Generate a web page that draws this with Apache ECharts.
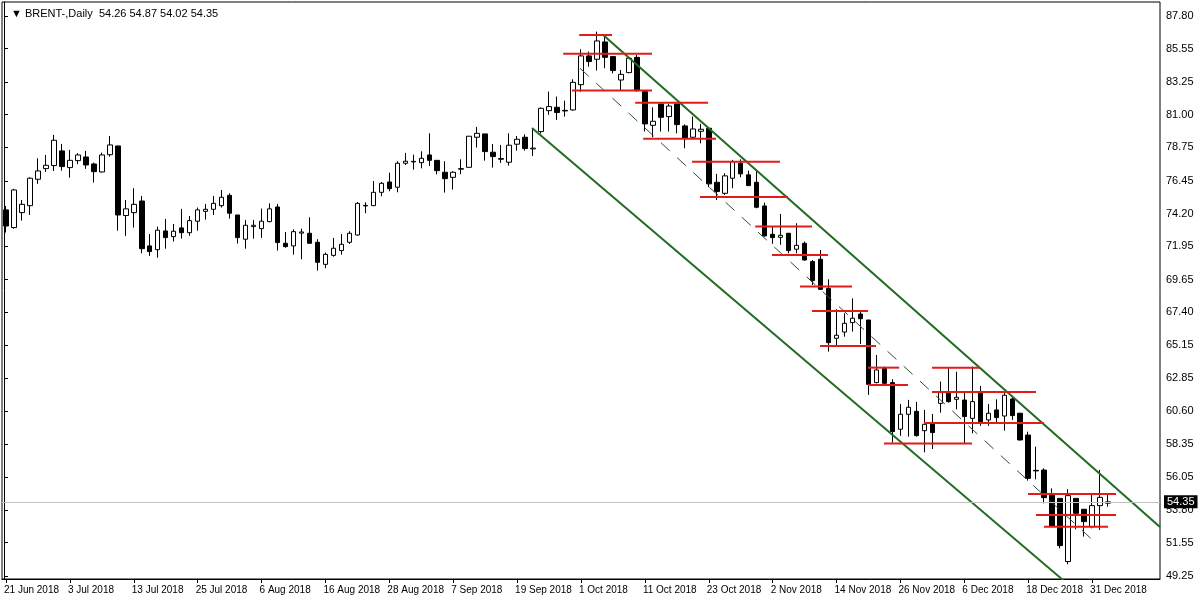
<!DOCTYPE html>
<html><head><meta charset="utf-8">
<script src="https://cdn.jsdelivr.net/npm/echarts@6/dist/echarts.min.js"></script>
<style>html,body{margin:0;padding:0;background:#fff}#c{width:1200px;height:600px}</style>
</head><body><div id="c"></div>
<script>
// candles: [open, close, low, high]
const candles = [
[74.45,73.34,72.89,74.72],[73.23,75.82,73.15,75.90],[74.26,74.83,73.71,75.13],[74.74,76.63,74.10,76.69],
[76.56,77.13,76.24,78.00],[77.29,77.52,77.06,78.23],[77.50,79.24,77.13,79.61],[78.51,77.43,77.15,78.99],
[77.36,77.86,76.67,78.58],[77.84,78.23,77.59,78.35],[78.09,77.54,77.27,78.51],[77.61,77.08,76.33,77.70],
[77.06,78.23,77.02,78.39],[78.25,78.92,78.12,79.54],[78.85,74.10,73.02,78.85],[74.06,74.52,72.66,75.13],
[74.26,74.83,73.23,75.94],[75.06,71.78,71.46,75.41],[71.97,71.58,71.28,72.79],[71.71,73.05,71.16,73.30],
[73.00,72.54,71.78,73.83],[72.61,72.98,72.27,73.48],[73.21,72.88,72.47,74.52],[72.88,73.71,72.66,74.03],
[73.67,74.45,73.02,74.61],[74.35,74.49,73.78,74.86],[74.49,74.90,74.10,75.41],[74.74,75.32,74.61,75.82],
[75.45,74.22,73.85,75.59],[74.10,72.54,72.13,74.10],[72.43,73.39,71.78,73.76],[73.30,73.39,72.47,73.76],
[73.16,73.67,72.52,74.54],[73.64,74.52,73.60,74.90],[74.65,72.20,71.65,74.86],[72.15,71.92,71.85,72.93],
[71.97,72.95,71.37,73.11],[72.85,72.93,71.05,73.16],[72.84,72.15,72.15,73.94],[72.22,70.84,70.27,72.43],
[70.70,71.39,70.43,71.51],[71.32,71.81,71.23,72.52],[71.65,72.08,71.37,72.79],[72.22,72.84,72.11,72.98],
[72.72,74.90,72.68,74.99],[74.72,74.76,74.22,74.97],[74.74,75.66,74.72,76.44],[75.66,76.28,75.39,76.37],
[76.37,75.91,75.73,77.01],[76.01,77.66,75.66,77.80],[77.66,77.80,77.54,78.37],[77.75,77.79,77.22,78.25],
[77.70,78.00,77.31,78.48],[78.23,77.86,77.47,79.72],[77.86,77.15,76.90,77.86],[77.04,76.60,75.64,77.80],
[76.69,77.04,75.85,77.11],[77.25,77.29,76.90,77.93],[77.38,79.52,77.38,79.52],[79.45,79.72,78.74,80.16],
[79.68,78.46,77.84,79.68],[78.42,78.12,77.36,78.99],[77.98,77.94,77.68,78.92],[77.73,78.90,77.50,79.72],
[78.97,79.31,78.53,79.54],[79.45,78.67,78.53,79.65],[78.65,78.70,78.16,80.07],[79.84,81.44,79.70,81.50],
[81.28,81.56,80.99,82.59],[81.51,81.15,80.64,82.25],[81.30,81.26,80.87,81.97],[81.33,83.23,81.28,83.44],
[83.07,85.05,82.59,85.51],[85.05,84.66,84.31,85.35],[84.82,86.08,84.04,86.72],[86.01,84.95,84.20,86.49],
[85.00,84.04,83.85,85.00],[83.39,83.78,82.66,84.08],[83.90,84.89,83.85,84.95],[84.95,82.66,82.59,85.12],
[82.59,80.37,79.84,82.59],[80.27,80.55,79.45,81.51],[81.74,80.82,79.84,81.74],[80.87,81.60,79.84,81.74],
[81.74,80.32,79.72,81.74],[80.23,79.38,78.69,80.34],[79.45,80.02,79.31,80.87],[79.86,80.00,79.03,80.37],
[80.07,76.24,76.01,80.07],[76.35,75.71,75.13,76.93],[75.59,76.79,75.48,76.97],[76.63,77.77,75.94,77.89],
[77.66,76.93,76.70,77.93],[76.86,76.12,76.12,77.15],[76.35,74.63,74.56,77.15],[74.72,72.66,72.61,74.95],
[72.77,72.54,72.11,73.30],[72.56,72.70,72.04,74.17],[72.84,71.65,71.46,72.84],[71.74,72.01,71.46,73.53],
[72.15,71.00,70.96,72.27],[70.89,69.58,69.28,71.00],[71.05,68.98,68.94,71.69],[69.05,65.31,64.69,69.67],
[65.61,65.82,65.08,67.61],[66.04,66.64,65.72,67.33],[66.69,66.99,66.07,68.36],[67.28,66.96,65.22,67.56],
[66.87,62.44,61.71,66.87],[62.56,63.43,62.51,64.46],[63.54,62.51,62.47,63.66],[62.56,59.19,58.43,62.79],
[59.35,60.38,58.89,61.09],[60.38,60.86,58.84,61.37],[60.58,58.91,58.84,61.23],[59.25,59.69,57.76,60.68],
[59.76,59.12,57.99,60.40],[61.13,61.87,60.49,62.63],[61.87,61.25,61.18,63.54],[61.41,61.55,60.72,63.31],
[61.36,60.22,58.38,61.94],[60.10,61.25,59.07,63.66],[61.87,59.87,59.58,62.33],[59.99,60.45,59.58,61.09],
[60.68,60.15,59.80,61.41],[60.26,61.69,59.25,61.94],[61.43,60.29,59.99,61.59],[60.45,58.61,58.57,60.49],
[58.95,55.97,55.81,59.18],[56.52,56.48,55.90,58.15],[56.54,54.64,54.25,56.66],[54.82,52.69,52.64,55.28],
[54.59,51.34,51.15,54.59],[50.24,54.78,50.05,55.22],[54.59,53.56,52.46,54.59],[53.84,52.99,51.96,53.84],
[52.64,54.09,52.53,54.82],[54.09,54.66,52.42,56.55],[54.26,54.35,54.02,54.87]
];
const yTicks = [49.25,51.55,53.80,56.05,58.35,60.60,62.85,65.15,67.40,69.65,71.95,74.20,76.45,78.75,81.00,83.25,85.55,87.80];
// red levels: [fromBar, toBar, price]
const levels = [
[71.9,76,86.49],[69.9,81,85.20],[71,81,82.66],[78.9,88,81.83],[79.9,89,79.35],[86,97,77.77],[87,98,75.34],
[93.9,101,73.30],[96,103,71.35],[99.5,106,69.17],[101,108,67.49],[102,109,65.08],[108,111.9,63.59],
[108,113,62.39],[116,122,63.59],[116,129,61.92],[115,130,59.78],[110,121,58.36],[128,139,54.89],
[129,139,53.45],[130,138,52.64]
];
const channelUpper = [[74.9,86.49],[144.5,52.62]];
const channelLower = [[66,80.09],[132.4,48.96]];
const channelMid = [[72,84.20],[136.75,51.38]];
const lastPrice = 54.35;
const header = '\u25BC BRENT-,Daily  54.26 54.87 54.02 54.35';

// dates: weekdays from 21 Jun 2018, skipping 25 Dec and 1 Jan
const months=['Jan','Feb','Mar','Apr','May','Jun','Jul','Aug','Sep','Oct','Nov','Dec'];
const dates=[]; let d=new Date(Date.UTC(2018,5,21));
while(dates.length<145){const wd=d.getUTCDay();const m=d.getUTCMonth(),dd=d.getUTCDate();
 if(wd!==0&&wd!==6&&!(m===11&&dd===25)&&!(m===0&&dd===1)) dates.push(dd+' '+months[m]+' '+d.getUTCFullYear());
 d=new Date(d.getTime()+86400000);}
const lastLabelIdx = 136;

const FONT='Liberation Sans';
const series=[{
 type:'candlestick',data:candles,barWidth:5,xAxisIndex:0,yAxisIndex:0,
 itemStyle:{color:'#fff',color0:'#000',borderColor:'#000',borderColor0:'#000',borderWidth:1},
 markLine:{silent:true,symbol:'none',animation:false,
  lineStyle:{color:'#c0c0c0',type:'solid',width:1},
  label:{position:'end',formatter:()=>lastPrice.toFixed(2),backgroundColor:'#000',color:'#fff',
   fontFamily:FONT,fontSize:11,padding:[1,3],distance:4},
  data:[{yAxis:lastPrice}]}
}];
const lineS=(data,color,w,type,z)=>({type:'line',xAxisIndex:1,yAxisIndex:0,data,symbol:'none',
 lineStyle:{color,width:w,type},silent:true,z:z,animation:false,clip:true});
series.push(lineS(channelUpper,'#1f6b1f',2,'solid',3));
series.push(lineS(channelLower,'#1f6b1f',2,'solid',3));
series.push(lineS(channelMid,'#2f4f2f',1,[12,10],3));
levels.forEach(l=>series.push(lineS([[l[0],l[2]],[l[1],l[2]]],'#e41b1b',2,'solid',4)));

const chart=echarts.init(document.getElementById('c'));
chart.setOption({
 animation:false,backgroundColor:'#fff',
 title:{text:header,left:6,top:3,textStyle:{fontFamily:FONT,fontSize:11,fontWeight:'normal',color:'#000'}},
 grid:{left:2,right:40,top:2,bottom:21,show:true,borderColor:'#000',borderWidth:1,outerBoundsMode:'none',containLabel:false},
 xAxis:[{type:'category',data:dates,boundaryGap:true,
   axisLine:{show:true,lineStyle:{color:'#000'}},
   axisTick:{show:true,interval:(i)=>i%8===0&&i<=lastLabelIdx,alignWithLabel:true,length:4,lineStyle:{color:'#000'}},
   axisLabel:{interval:(i)=>i%8===0&&i<=lastLabelIdx,align:'left',margin:6,color:'#000',fontFamily:FONT,fontSize:10,padding:[0,0,0,-2]},
   splitLine:{show:false}},
  {type:'value',min:-0.25,max:144.5,show:false}],
 yAxis:[{type:'value',position:'right',min:49.04,max:88.76,scale:true,
   axisLine:{show:true,lineStyle:{color:'#000'}},
   axisTick:{show:true,length:4,customValues:yTicks,lineStyle:{color:'#000'}},
   axisLabel:{customValues:yTicks,formatter:v=>v.toFixed(2),color:'#000',fontFamily:FONT,fontSize:11,margin:6},
   splitLine:{show:false}}],
 series
});
</script></body></html>
